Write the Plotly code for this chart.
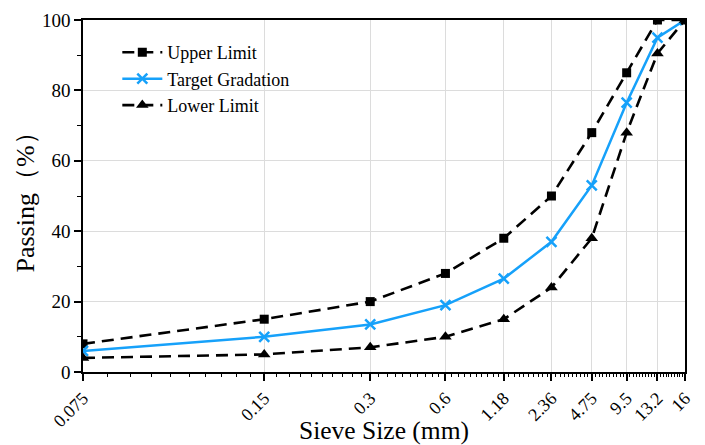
import numpy as np
import plotly.graph_objects as go

sieve_labels = ["0.075", "0.15", "0.3", "0.6", "1.18", "2.36", "4.75", "9.5", "13.2", "16"]
sieve_index = [1, 2, 3, 4, 5, 6, 7, 8, 9, 10]
upper_limit = [8, 15, 20, 28, 38, 50, 68, 85, 100, 100]
target_gradation = [6, 10, 13.5, 19, 26.5, 37, 53, 76.5, 95, 100]
lower_limit = [4, 5, 7, 10, 15, 24, 38, 68, 90.5, 100]

FONT = "Liberation Serif"
BLUE = "rgb(22,161,250)"

minor_x = [round(v, 1) for v in np.arange(1.1, 10.0, 0.1) if abs(v - round(v)) > 1e-6]

fig = go.Figure()
fig.add_trace(go.Scatter(
    x=sieve_index, y=upper_limit, name="Upper Limit", mode="lines+markers",
    line=dict(color="black", width=2.6, dash="12px,7px"),
    marker=dict(symbol="square", size=9, color="black")))
fig.add_trace(go.Scatter(
    x=sieve_index, y=target_gradation, name="Target Gradation", mode="lines+markers",
    line=dict(color=BLUE, width=2.5),
    marker=dict(symbol="x-thin", size=10, color=BLUE, line=dict(color=BLUE, width=2.5))))
fig.add_trace(go.Scatter(
    x=sieve_index, y=lower_limit, name="Lower Limit", mode="lines+markers",
    line=dict(color="black", width=2.6, dash="12px,7px"),
    marker=dict(symbol="triangle-up", size=11, color="black")))
# helper trace so the minor-tick axis is drawn
fig.add_trace(go.Scatter(
    x=[sieve_index[0]], y=[0], xaxis="x2", mode="markers",
    marker=dict(opacity=0), showlegend=False, hoverinfo="skip"))

fig.update_layout(
    width=705, height=445,
    margin=dict(l=83, r=20, t=20, b=73),
    paper_bgcolor="white", plot_bgcolor="white",
    font=dict(family=FONT, size=18, color="black"),
    showlegend=True,
    legend=dict(x=0.057, y=0.96, xanchor="left", yanchor="top",
                bgcolor="rgba(0,0,0,0)", font=dict(size=18, family=FONT),
                itemwidth=40, tracegroupgap=0),
    xaxis2=dict(
        type="log", range=[0, 1], overlaying="x", side="bottom", anchor="y",
        automargin=False, tickmode="array", tickvals=minor_x,
        ticktext=["" for _ in minor_x], ticks="outside", ticklen=4, tickwidth=1,
        tickcolor="black", showgrid=False, showline=False, zeroline=False,
        showticklabels=False,
    ),
    xaxis=dict(
        type="log", range=[0, 1], automargin=False,
        tickmode="array", tickvals=sieve_index, ticktext=sieve_labels,
        tickangle=-45, ticks="outside", ticklen=7, tickwidth=1.5, tickcolor="black",
        showline=True, linecolor="black", linewidth=1.5, mirror=True,
        showgrid=True, gridcolor="#dcdcdc", gridwidth=1,
        tickfont=dict(size=18, family=FONT),
        title=dict(text="Sieve Size (mm)", font=dict(size=25.5, family=FONT), standoff=0),
        zeroline=False,
    ),
    yaxis=dict(
        range=[0, 100], tickvals=[0, 20, 40, 60, 80, 100], automargin=False,
        ticks="outside", ticklen=7, tickwidth=1.5, tickcolor="black",
        showline=True, linecolor="black", linewidth=1.5, mirror=True,
        showgrid=True, gridcolor="#dcdcdc", gridwidth=1,
        tickfont=dict(size=19, family=FONT),
        minor=dict(ticks="outside", ticklen=4, tickwidth=1, tickcolor="black",
                   dtick=10, tick0=0, showgrid=False),
        title=dict(text="Passing（%）", font=dict(size=26, family=FONT), standoff=0),
        zeroline=False,
    ),
)
fig.write_html("out.html")
